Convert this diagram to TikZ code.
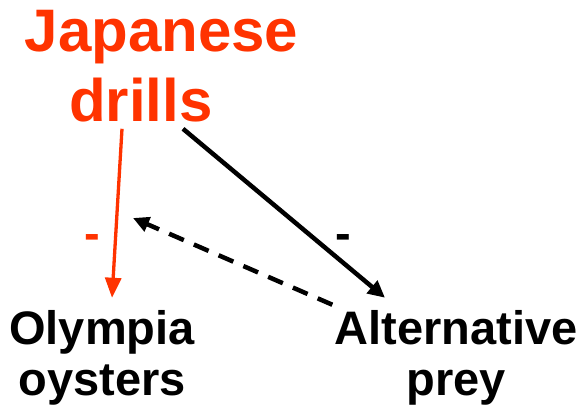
\documentclass[tikz,border=0pt]{standalone}
\usepackage{fontspec}
\setmainfont{Liberation Sans}
\usetikzlibrary{arrows.meta,calc}
\definecolor{drillred}{RGB}{255,51,0}
\begin{document}
\begin{tikzpicture}[x=1pt,y=-1pt,
  lbl/.style={inner sep=0pt, font=\bfseries\fontsize{47}{51}\selectfont, align=center},
  ttl/.style={inner sep=0pt, font=\bfseries\fontsize{60}{70}\selectfont, text=drillred},
  sign/.style={inner sep=0pt, font=\bfseries\fontsize{47}{51}\selectfont},
  redarr/.style={draw=drillred, line width=3.3pt, -{Triangle[length=20pt,width=16pt]}, fill=drillred},
  blkarr/.style={draw=black, line width=4.5pt, -{Triangle[length=17pt,width=16pt]}},
  dasharr/.style={draw=black, line width=4.5pt, dash pattern=on 16pt off 11pt, -{Triangle[length=16pt,width=15pt]}}
]
\useasboundingbox (0,0) rectangle (581,409);
\node[ttl,anchor=base] (jp) at (161.5,52) {Japanese};
\node[ttl,anchor=base] (drills) at (141,122) {drills};
\node[lbl,anchor=base] (olympia) at (102,395) {Olympia\\oysters};
\node[lbl,anchor=base] (alt) at (456,395) {Alternative\\prey};
\node[sign,text=drillred,anchor=base] (m1) at (92,249) {-};
\node[sign,anchor=base] (m2) at (343,249) {-};
\coordinate (dtip) at (133,218);
\draw[redarr] ([xshift=-19pt,yshift=-6pt]drills.south) -- ([xshift=10pt,yshift=12pt]olympia.north);
\draw[blkarr] ([xshift=42pt,yshift=-6pt]drills.south) -- ([xshift=-71pt,yshift=12pt]alt.north);
\draw[dasharr] ([xshift=-2pt,yshift=5pt]alt.north west) -- (dtip);
\end{tikzpicture}
\end{document}
